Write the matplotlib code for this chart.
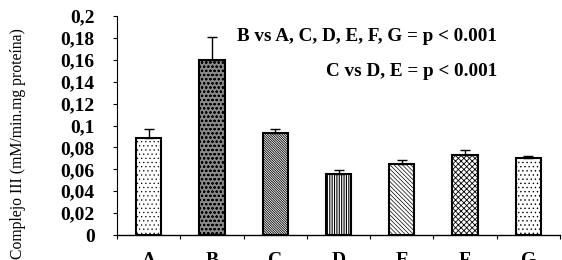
import matplotlib
matplotlib.use("Agg")
import matplotlib.pyplot as plt
import numpy as np

categories = ["A", "B", "C", "D", "E", "F", "G"]
values = [0.0883, 0.160, 0.0934, 0.0560, 0.0645, 0.0730, 0.0706]
errors = [0.0085, 0.021, 0.0037, 0.0031, 0.0037, 0.0049, 0.0013]
ytick_vals = [0, 0.02, 0.04, 0.06, 0.08, 0.1, 0.12, 0.14, 0.16, 0.18, 0.2]
ytick_labels = ["0", "0,02", "0,04", "0,06", "0,08", "0,1", "0,12", "0,14", "0,16", "0,18", "0,2"]
hatches = ["....", "oooo", "\\" * 14, "|" * 7, "\\" * 8, "x" * 6, "...."]
facecolors = ["white", "#8a8a8a", "white", "white", "white", "white", "white"]
hatch_lw = [0.4, 0.5, 0.6, 0.8, 0.5, 0.6, 0.5]

plt.rcParams["font.family"] = ["Liberation Serif", "DejaVu Serif"]

fig = plt.figure(figsize=(5.62, 2.6), dpi=100)
ax = fig.add_axes([117/562, 25/260, 443/562, 219/260])

x = np.arange(len(categories))
for i in range(len(categories)):
    plt.rcParams["hatch.linewidth"] = hatch_lw[i]
    ax.bar(x[i], values[i], width=0.4, color=facecolors[i], edgecolor="black",
           linewidth=1.5, hatch=hatches[i], zorder=2)
    ax.errorbar(x[i], values[i], yerr=[[0], [errors[i]]], fmt="none", ecolor="black",
                elinewidth=1.0, capsize=3.5, capthick=1.0, zorder=3)

ax.set_xlim(-0.5, len(categories) - 0.5)
ax.set_ylim(0, 0.2)
ax.set_yticks(ytick_vals)
ax.set_yticklabels(ytick_labels, fontsize=14, fontweight="bold")
ax.set_xticks(x)
ax.set_xticklabels(categories, fontsize=14, fontweight="bold")
ax.set_xticks(np.arange(len(categories) + 1) - 0.5, minor=True)
ax.tick_params(axis="x", which="major", length=0, pad=12)
ax.tick_params(axis="x", which="minor", length=3, direction="out", width=0.8)
ax.tick_params(axis="y", which="major", length=3, direction="out", width=0.8, pad=13)
for s in ["top", "right"]:
    ax.spines[s].set_visible(False)
ax.spines["left"].set_linewidth(0.8)
ax.spines["bottom"].set_linewidth(1.0)

fig.text(18/562, 1 - 144/260, "Complejo III (mM/min.mg proteína)", rotation=90,
         ha="center", va="center", fontsize=11.3)

fig.text(497/562, 1 - 37/260, "B vs A, C, D, E, F, G = p < 0.001", ha="right", va="center",
         fontsize=13.8, fontweight="bold")
fig.text(497/562, 1 - 72/260, "C vs D, E = p < 0.001", ha="right", va="center",
         fontsize=13.8, fontweight="bold")

fig.savefig("out.png", dpi=100)
